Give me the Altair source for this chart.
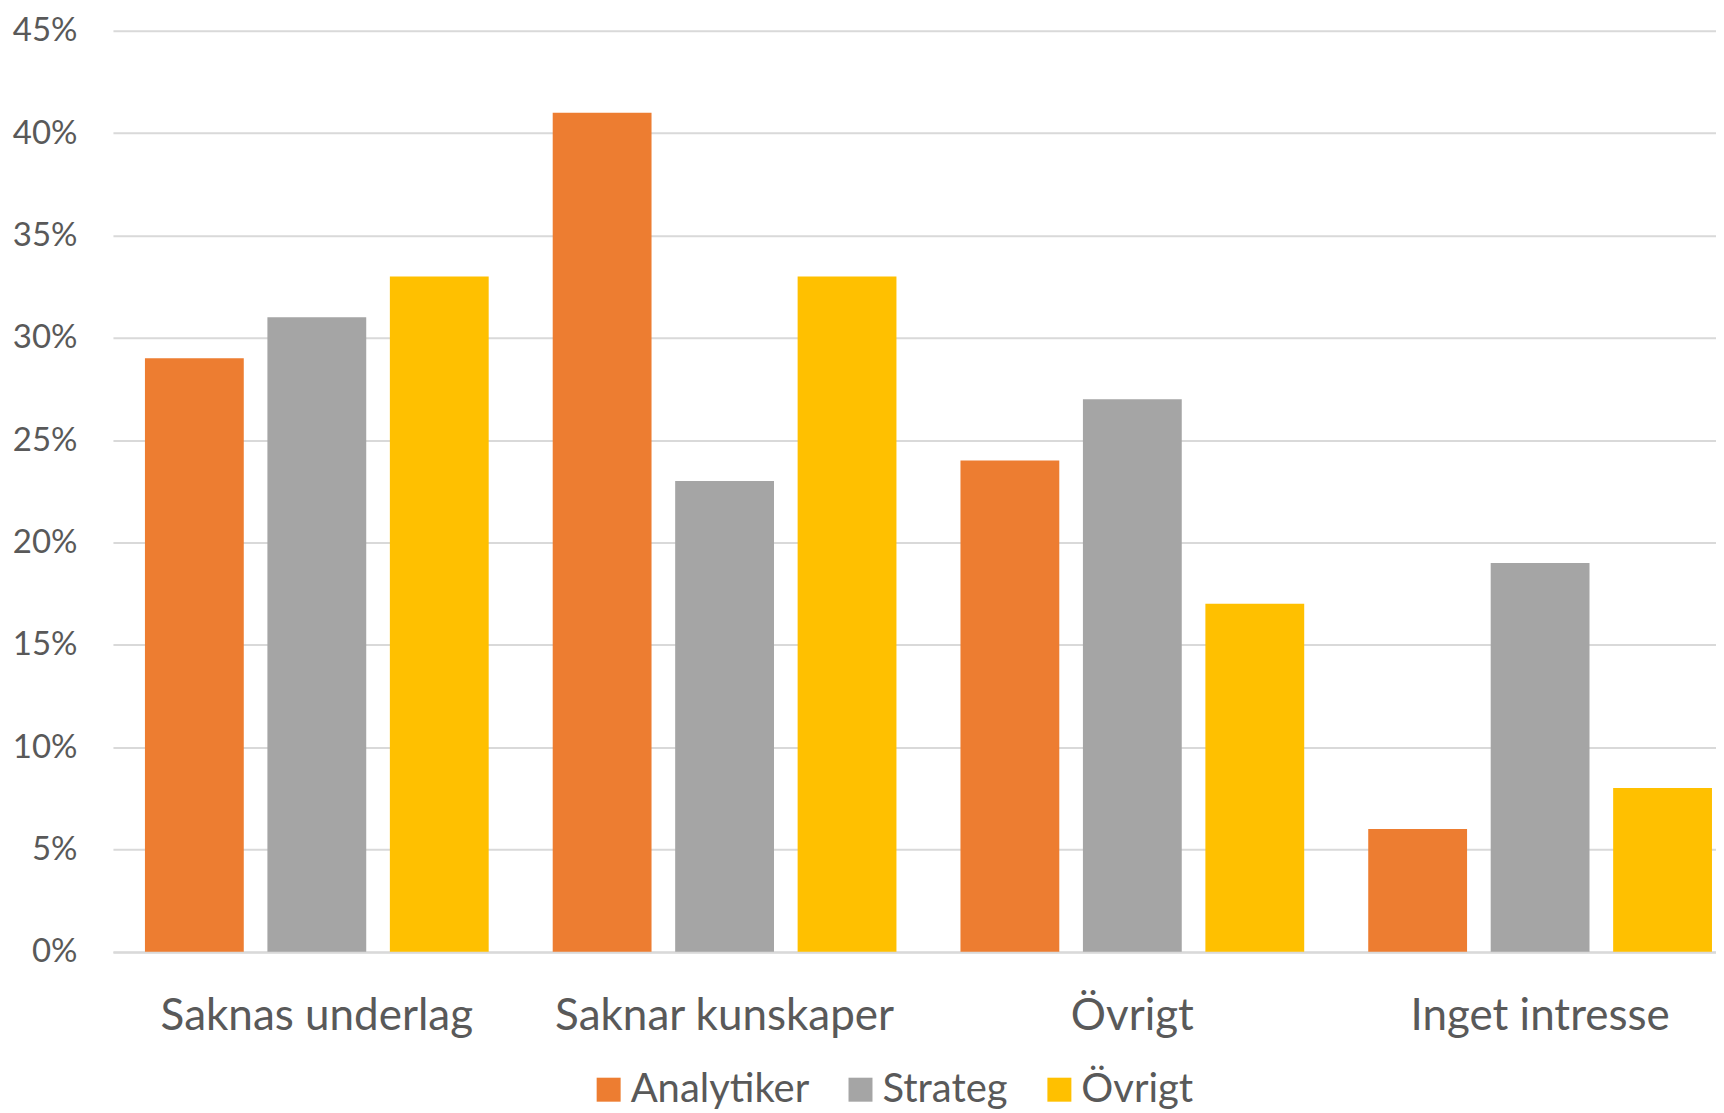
import altair as alt
import pandas as pd

categories = ["Saknas underlag", "Saknar kunskaper", "Övrigt", "Inget intresse"]
series = ["Analytiker", "Strateg", "Övrigt"]
analytiker = [29, 41, 24, 6]
strateg = [31, 23, 27, 19]
ovrigt = [33, 33, 17, 8]
colors = ["#ED7D31", "#A5A5A5", "#FFC000"]
y_ticks = [0, 5, 10, 15, 20, 25, 30, 35, 40, 45]

rows = []
for s, vals in zip(series, [analytiker, strateg, ovrigt]):
    for c, v in zip(categories, vals):
        rows.append({"category": c, "series": s, "value": v / 100})
df = pd.DataFrame(rows)

TEXT = "#595959"
GRID = "#D9D9D9"
FONT = "Lato"

chart = alt.Chart(df).mark_bar().encode(
    x=alt.X(
        "category:N",
        sort=categories,
        scale=alt.Scale(range=[0, 1632], paddingInner=0.157, paddingOuter=0.0785),
        axis=alt.Axis(
            title=None, labelAngle=0, labelFont=FONT, labelFontSize=44,
            labelColor=TEXT, labelBaseline="alphabetic", labelPadding=78,
            labelLimit=0, labelOverlap=False,
            ticks=False, tickSize=0, domainColor=GRID, domainWidth=2, grid=False,
        ),
    ),
    xOffset=alt.XOffset("series:N", sort=series,
                        scale=alt.Scale(paddingInner=0.193, paddingOuter=0)),
    y=alt.Y(
        "value:Q",
        scale=alt.Scale(domain=[0, 0.45], nice=False),
        axis=alt.Axis(
            title=None, values=[t / 100 for t in y_ticks], format=".0%",
            labelFont=FONT, labelFontSize=33, labelColor=TEXT, labelPadding=36,
            ticks=False, tickSize=0, domain=False, grid=True,
            gridColor=GRID, gridWidth=2,
        ),
    ),
    color=alt.Color(
        "series:N", sort=series,
        scale=alt.Scale(domain=series, range=colors),
        legend=alt.Legend(
            title=None, orient="none", direction="horizontal",
            legendX=476, legendY=1039.5, padding=0,
            labelFont=FONT, labelFontSize=40, labelColor=TEXT, labelLimit=0,
            symbolType="square", symbolSize=576, symbolStrokeWidth=0,
            labelOffset=2, columnPadding=31,
        ),
    ),
).properties(
    width=1604,
    height=921.5,
    autosize=alt.AutoSizeParams(type="none"),
    padding={"left": 105, "top": 22.5, "right": 0, "bottom": 161},
).configure_view(stroke=None)

chart.save("out.html", embed_options={"renderer": "svg", "actions": False})
